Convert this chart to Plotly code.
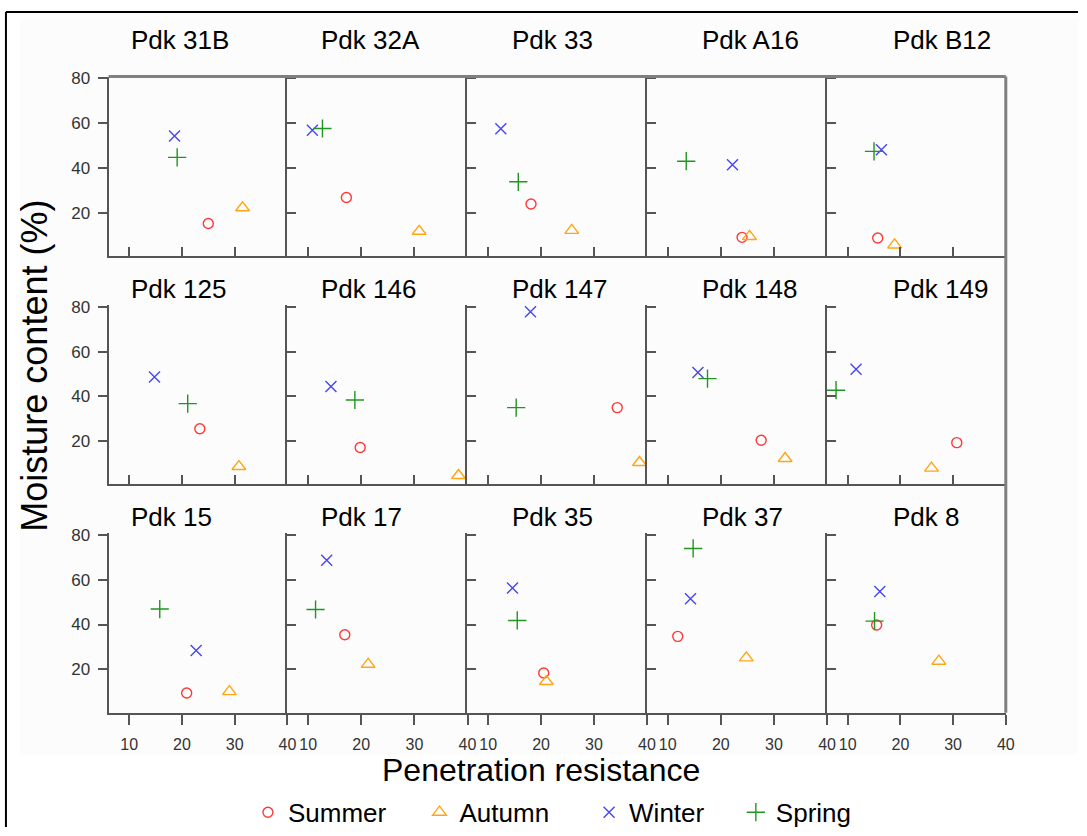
import plotly.graph_objects as go

# Sites, laid out 5 per row
panels = ["Pdk 31B", "Pdk 32A", "Pdk 33", "Pdk A16", "Pdk B12",
          "Pdk 125", "Pdk 146", "Pdk 147", "Pdk 148", "Pdk 149",
          "Pdk 15", "Pdk 17", "Pdk 35", "Pdk 37", "Pdk 8"]

# Penetration resistance (x) and moisture content % (y) per season, one value per site
summer_x = [25.0, 17.2, 18.1, 24.0, 15.7, 23.4, 19.8, 34.4, 27.6, 30.7, 20.9, 16.9, 20.5, 11.9, 15.5]
summer_y = [15.2, 26.8, 23.9, 9.0, 8.7, 25.5, 17.1, 35.0, 20.4, 19.3, 9.4, 35.4, 18.3, 34.7, 39.8]
autumn_x = [31.5, 30.9, 25.8, 25.4, 18.9, 30.8, 38.3, 38.6, 32.1, 25.9, 29.0, 21.3, 21.0, 24.8, 27.3]
autumn_y = [22.2, 11.7, 12.1, 9.4, 5.6, 8.6, 4.6, 10.4, 12.2, 7.9, 10.0, 22.2, 14.5, 25.1, 23.6]
winter_x = [18.6, 10.8, 12.4, 22.2, 16.4, 14.8, 14.3, 18.0, 15.7, 11.6, 22.7, 13.5, 14.6, 14.3, 16.1]
winter_y = [54.2, 56.8, 57.5, 41.4, 48.1, 48.7, 44.5, 77.9, 50.7, 52.2, 28.4, 68.7, 56.3, 51.5, 54.7]
spring_x = [19.1, 12.7, 15.7, 13.5, 15.0, 21.1, 18.8, 15.3, 17.5, 7.8, 15.8, 11.4, 15.5, 14.8, 15.1]
spring_y = [44.7, 57.6, 33.8, 43.0, 47.4, 36.8, 38.4, 35.0, 48.0, 42.8, 46.9, 46.7, 41.8, 74.0, 41.5]

x_ticks = [10, 20, 30, 40]
y_ticks = [20, 40, 60, 80]

# name, x, y, symbol, size, colour, legend id, legend symbol x (px)
seasons = [
    ("Summer", summer_x, summer_y, "circle-open", 10, "#ff3838", "legend", 268),
    ("Autumn", autumn_x, autumn_y, "triangle-up-open", 12, "#ffa514", "legend2", 441),
    ("Winter", winter_x, winter_y, "x-thin-open", 11, "#4646f5", "legend3", 612),
    ("Spring", spring_x, spring_y, "cross-thin-open", 13, "#1f961f", "legend4", 760),
]

W, H = 1087, 836
FONT = "Liberation Sans, Arial, sans-serif"
SPINE = "#555555"

# pixel geometry of the panel grid
col_edges = [109.5, 289.8, 471.4, 652.3, 834.0, 1014.2]
row_px = [(70.9, 254.0), (304.2, 486.7), (536.5, 719.4)]  # (top, bottom)
title_left = [130, 322, 514, 706, 898]
title_mid = [34, 287, 520]


def fx(px):
    return px / W


def fy(px):
    return 1 - px / H


fig = go.Figure()
layout = dict(
    width=W, height=H,
    margin=dict(l=0, r=0, t=0, b=0),
    paper_bgcolor="white", plot_bgcolor="rgba(0,0,0,0)",
    font=dict(family=FONT, color="#333333"),
    showlegend=True,
)

annotations = []
for i, name in enumerate(panels):
    r, c = divmod(i, 5)
    k = i + 1
    xa = "xaxis" if k == 1 else f"xaxis{k}"
    ya = "yaxis" if k == 1 else f"yaxis{k}"
    xr = "x" if k == 1 else f"x{k}"
    yr = "y" if k == 1 else f"y{k}"
    top, bot = row_px[r]
    bottom_row = r == 2
    layout[xa] = dict(
        domain=[fx(col_edges[c]), fx(col_edges[c + 1])],
        anchor=yr, range=[6.1, 40], tickvals=x_ticks,
        showline=True, linecolor=SPINE, linewidth=2, showgrid=False, zeroline=False,
        ticks="outside" if bottom_row else "inside",
        ticklen=10 if bottom_row else 9, tickwidth=1.5, tickcolor=SPINE,
        showticklabels=bottom_row, ticklabelstandoff=6,
        tickfont=dict(size=16, color="#333333", family=FONT),
    )
    layout[ya] = dict(
        domain=[fy(bot), fy(top)],
        anchor=xr, range=[0.6, 80.8], tickvals=y_ticks,
        showline=True, linecolor=SPINE, linewidth=2, showgrid=False, zeroline=False,
        ticks="outside" if c == 0 else "inside",
        ticklen=9, tickwidth=1.5, tickcolor=SPINE,
        showticklabels=(c == 0), ticklabelstandoff=4,
        tickfont=dict(size=17, color="#333333", family=FONT),
    )
    annotations.append(dict(
        text=name, xref="paper", yref="paper",
        x=fx(title_left[c]), y=fy(title_mid[r]),
        xanchor="left", yanchor="middle", showarrow=False,
        font=dict(size=26, color="black", family=FONT),
    ))
    for sname, sx, sy, sym, size, col, leg, _ in seasons:
        fig.add_trace(go.Scatter(
            x=[sx[i]], y=[sy[i]], mode="markers", name=sname,
            legendgroup=sname, showlegend=(i == 0), legend=leg,
            xaxis=xr, yaxis=yr,
            marker=dict(symbol=sym, size=size, color=col,
                        line=dict(color=col, width=1.4)),
            cliponaxis=False,
        ))

annotations.append(dict(
    text="Penetration resistance", xref="paper", yref="paper",
    x=fx(546), y=fy(778), xanchor="center", yanchor="middle", showarrow=False,
    font=dict(size=32, color="black", family=FONT),
))
annotations.append(dict(
    text="Moisture content (%)", xref="paper", yref="paper",
    x=fx(35), y=fy(366), xanchor="center", yanchor="middle", showarrow=False,
    textangle=-90, font=dict(size=36, color="black", family=FONT),
))

shapes = [
    # soft panel backdrop
    dict(type="rect", xref="paper", yref="paper", layer="below",
         x0=fx(20), x1=1, y0=fy(762), y1=fy(12),
         fillcolor="#fcfcfc", line=dict(width=0)),
    # outer frame (top and left edges)
    dict(type="line", xref="paper", yref="paper", x0=fx(6), x1=1, y0=fy(5), y1=fy(5),
         line=dict(color="black", width=2)),
    dict(type="line", xref="paper", yref="paper", x0=fx(6), x1=fx(6), y0=0, y1=fy(5),
         line=dict(color="black", width=2)),
    # top border of the first row and right border of the grid
    dict(type="line", xref="paper", yref="paper",
         x0=fx(col_edges[0]), x1=fx(col_edges[-1]), y0=fy(row_px[0][0]), y1=fy(row_px[0][0]),
         line=dict(color="#808080", width=3)),
    dict(type="line", xref="paper", yref="paper",
         x0=fx(col_edges[-1]), x1=fx(col_edges[-1]), y0=fy(row_px[2][1]), y1=fy(row_px[0][0]),
         line=dict(color="#808080", width=3)),
]

layout["annotations"] = annotations
layout["shapes"] = shapes
for sname, _, _, _, _, _, leg, sym_px in seasons:
    layout[leg] = dict(
        orientation="h", x=fx(sym_px - 18), y=fy(821), xanchor="left", yanchor="middle",
        font=dict(size=26, color="black", family=FONT),
        bgcolor="rgba(0,0,0,0)", itemclick=False, itemdoubleclick=False,
    )
fig.update_layout(**layout)
fig.write_html("out.html")
